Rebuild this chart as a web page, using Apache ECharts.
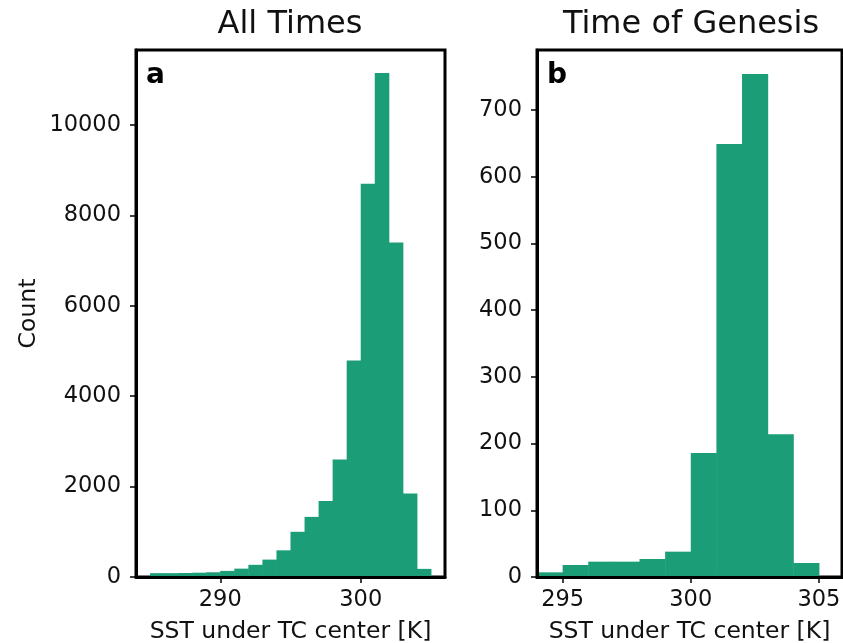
<!DOCTYPE html>
<html>
<head>
<meta charset="utf-8">
<script src="https://cdn.jsdelivr.net/npm/echarts@6/dist/echarts.min.js"></script>
<style>
  html, body { margin: 0; padding: 0; background: #fff; }
  #chart { width: 843px; height: 643px; }
</style>
</head>
<body>
<div id="chart"></div>
<script>
// histogram bins (1 K wide)
var allTimesBinStart = [285, 286, 287, 288, 289, 290, 291, 292, 293, 294, 295, 296, 297, 298, 299, 300, 301, 302, 303, 304];
var allTimesBinEnd   = [286, 287, 288, 289, 290, 291, 292, 293, 294, 295, 296, 297, 298, 299, 300, 301, 302, 303, 304, 305];
var allTimesCounts   = [85, 85, 88, 95, 105, 135, 185, 270, 385, 590, 1000, 1330, 1680, 2600, 4790, 8700, 11150, 7400, 1850, 180];

var genesisBinStart = [294, 295, 296, 297, 298, 299, 300, 301, 302, 303, 304];
var genesisBinEnd   = [295, 296, 297, 298, 299, 300, 301, 302, 303, 304, 305];
var genesisCounts   = [7, 18, 23, 23, 27, 38, 186, 649, 754, 214, 21];

var leftYTicks = [0, 2000, 4000, 6000, 8000, 10000];
var leftXTicks = [290, 300];
var rightYTicks = [0, 100, 200, 300, 400, 500, 600, 700];
var rightXTicks = [295, 300, 305];

var barColor = '#1b9e77';
var font = 'DejaVu Sans';

function toBins(starts, ends, counts) {
    var out = [];
    for (var i = 0; i < counts.length; i++) {
        out.push([starts[i], ends[i], counts[i]]);
    }
    return out;
}

function renderBin(params, api) {
    var top = api.coord([api.value(0), api.value(2)]);
    var base = api.coord([api.value(1), 0]);
    return {
        type: 'rect',
        shape: { x: top[0], y: top[1], width: base[0] - top[0] + 0.5, height: base[1] - top[1] },
        style: { fill: barColor }
    };
}

function plain(v) { return String(v); }

function xAxisFor(idx, min, max, ticks) {
    return {
        type: 'value', gridIndex: idx, min: min, max: max, z: 5,
        name: 'SST under TC center [K]', nameLocation: 'middle', nameGap: 43,
        nameTextStyle: { fontFamily: font, fontSize: 23.5, color: '#111' },
        axisLine: { show: true, lineStyle: { color: '#000', width: 3 } },
        axisTick: { show: true, length: 6, customValues: ticks, lineStyle: { color: '#000', width: 1.5 } },
        axisLabel: { customValues: ticks, formatter: plain, margin: 12, fontFamily: font, fontSize: 22.5, color: '#111' },
        splitLine: { show: false }
    };
}

function yAxisFor(idx, max, ticks, name) {
    return {
        type: 'value', gridIndex: idx, min: 0, max: max, z: 5,
        name: name, nameLocation: 'middle', nameGap: 95, nameRotate: 90,
        nameTextStyle: { fontFamily: font, fontSize: 23.5, color: '#111' },
        axisLine: { show: true, lineStyle: { color: '#000', width: 3 } },
        axisTick: { show: true, length: 6, customValues: ticks, lineStyle: { color: '#000', width: 1.5 } },
        axisLabel: { customValues: ticks, formatter: plain, margin: 15, fontFamily: font, fontSize: 22.5, color: '#111' },
        splitLine: { show: false }
    };
}

var chart = echarts.init(document.getElementById('chart'));
var option = {
    animation: false,
    backgroundColor: '#fff',
    title: [
        { text: 'All Times', left: 290, top: 9, textAlign: 'center', padding: 0,
          textStyle: { fontFamily: font, fontSize: 32, fontWeight: 'normal', color: '#111' } },
        { text: 'Time of Genesis', left: 691, top: 9, textAlign: 'center', padding: 0,
          textStyle: { fontFamily: font, fontSize: 32, fontWeight: 'normal', color: '#111' } },
        { text: 'a', left: 146, top: 62, padding: 0,
          textStyle: { fontFamily: font, fontSize: 28, fontWeight: 'bold', color: '#000' } },
        { text: 'b', left: 547, top: 62, padding: 0,
          textStyle: { fontFamily: font, fontSize: 28, fontWeight: 'bold', color: '#000' } }
    ],
    grid: [
        { left: 136, top: 50, width: 309, height: 527, outerBoundsMode: 'none', containLabel: false,
          show: true, borderColor: '#000', borderWidth: 3 },
        { left: 537, top: 50, width: 305, height: 527, outerBoundsMode: 'none', containLabel: false,
          show: true, borderColor: '#000', borderWidth: 3 }
    ],
    xAxis: [
        xAxisFor(0, 284, 306, leftXTicks),
        xAxisFor(1, 294, 305.9, rightXTicks)
    ],
    yAxis: [
        yAxisFor(0, 11660, leftYTicks, 'Count'),
        yAxisFor(1, 790, rightYTicks, '')
    ],
    series: [
        { type: 'custom', xAxisIndex: 0, yAxisIndex: 0, renderItem: renderBin,
          encode: { x: [0, 1], y: 2 }, data: toBins(allTimesBinStart, allTimesBinEnd, allTimesCounts) },
        { type: 'custom', xAxisIndex: 1, yAxisIndex: 1, renderItem: renderBin,
          encode: { x: [0, 1], y: 2 }, data: toBins(genesisBinStart, genesisBinEnd, genesisCounts) }
    ]
};
chart.setOption(option);
</script>
</body>
</html>
